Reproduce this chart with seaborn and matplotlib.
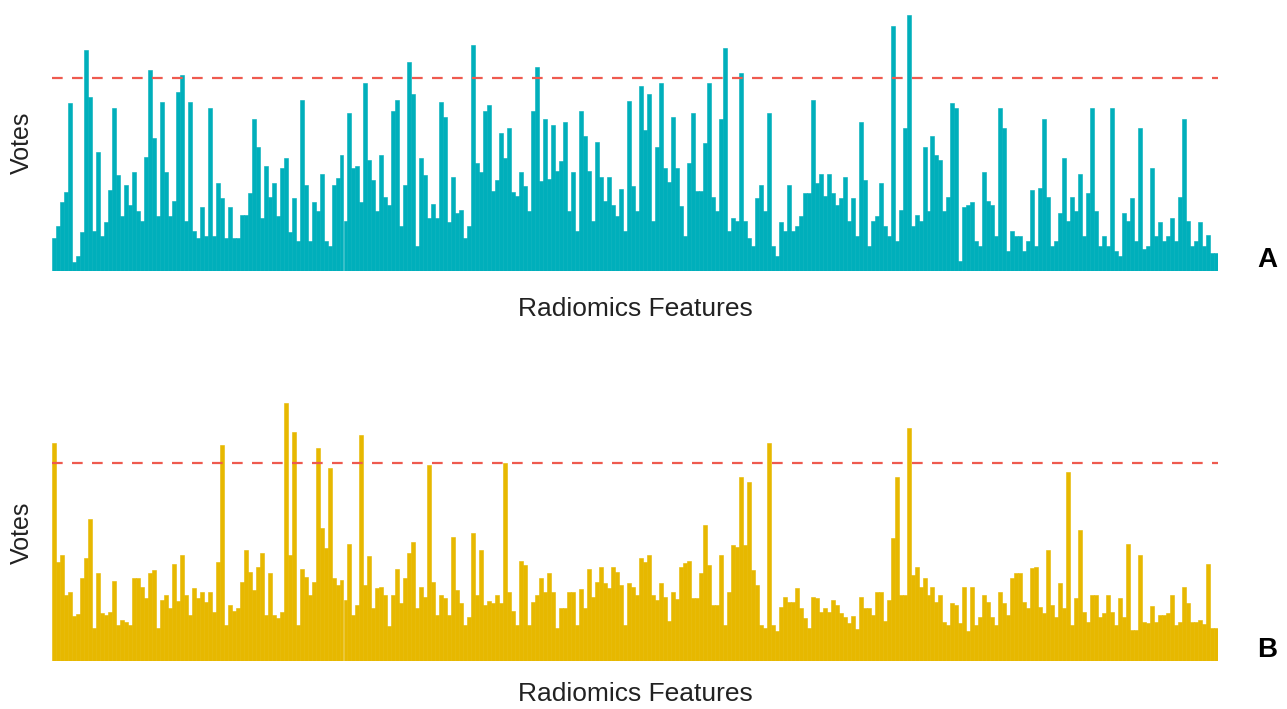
import matplotlib
matplotlib.use("Agg")
import matplotlib.pyplot as plt
import seaborn as sns
import pandas as pd

# votes per radiomics feature (one value per ~4 px column)
votes_a = [
    33, 45, 69, 79, 168, 9, 15, 39, 221, 174,
    40, 119, 35, 49, 81, 163, 96, 55, 86, 66,
    99, 60, 50, 114, 201, 133, 55, 169, 99, 55,
    70, 179, 196, 50, 169, 40, 33, 64, 35, 163,
    35, 88, 73, 33, 64, 33, 33, 56, 56,
    78, 152, 124, 53, 105, 74, 88, 55, 103, 113,
    39, 73, 30, 171, 86, 30, 69, 60, 97, 30,
    25, 86, 93, 116, 50, 158, 103, 105, 69, 188,
    111, 91, 60, 116, 74, 66, 160, 171, 45, 86,
    209, 177, 25, 113, 96, 53, 67, 53, 169,
    154, 49, 94, 58, 61, 33, 45, 226, 108, 99,
    160, 166, 80, 91, 138, 113, 143, 79, 75, 99,
    85, 60, 160, 204, 90, 152, 92, 146, 100, 110,
    149, 60, 99, 40, 160, 135, 100, 50, 129, 94,
    70, 94, 66, 55, 82, 40, 170, 85, 60, 185,
    141, 177, 50, 124, 188, 103, 89, 154, 103, 65,
    35, 108, 158, 80, 80, 128, 188, 74, 60, 152,
    223, 40, 53, 50, 198, 50, 33, 25, 73, 86,
    60, 158, 25, 15, 49, 40, 86, 40, 45, 55,
    78, 78, 171, 88, 97, 75, 97, 78, 66,
    73, 94, 50, 73, 35, 149, 91, 25, 50, 55,
    88, 45, 35, 245, 30, 61, 143, 256, 45, 56,
    50, 124, 60, 135, 116, 111, 60, 74, 168, 163,
    10, 64, 66, 69, 30, 25, 99, 70, 66, 35,
    163, 143, 20, 40, 35, 35, 20, 30, 81,
    25, 83, 152, 74, 25, 30, 58, 113, 50, 74,
    60, 97, 35, 78, 163, 60, 25, 35, 25, 163,
    20, 15, 58, 50, 73, 30, 143, 22, 25, 103,
    35, 49, 30, 35, 53, 30, 74, 152, 50, 25,
    30, 49, 25, 36, 18, 18,
]

votes_b = [
    218, 99, 106, 66, 69, 45, 47, 83, 103, 142,
    33, 88, 48, 46, 49, 80, 36, 41, 39, 36,
    83, 83, 74, 63, 88, 91, 33, 61, 66, 53,
    97, 60, 106, 66, 46, 73, 63, 69, 59, 69,
    49, 99, 216, 36, 56, 50, 53, 79, 111,
    89, 71, 94, 108, 46, 88, 46, 43, 49, 258,
    106, 229, 36, 92, 84, 66, 79, 213, 133, 113,
    193, 83, 76, 81, 61, 117, 46, 56, 226, 76,
    105, 53, 73, 74, 66, 35, 66, 92, 58, 83,
    108, 119, 53, 74, 64, 196, 79, 46, 66,
    63, 46, 124, 71, 58, 36, 44, 128, 66, 111,
    56, 60, 58, 66, 58, 198, 69, 50, 36, 100,
    96, 36, 59, 66, 83, 69, 88, 69, 33, 53,
    53, 69, 69, 36, 72, 53, 92, 64, 79, 94,
    78, 73, 94, 89, 76, 36, 78, 74, 66, 103,
    99, 106, 66, 61, 78, 64, 40, 69, 62, 94,
    98, 100, 63, 63, 88, 136, 96, 56, 56, 106,
    36, 69, 116, 114, 184, 116, 179, 91, 76, 36,
    33, 218, 36, 30, 54, 64, 59, 59, 73, 53,
    43, 33, 64, 63, 49, 53, 49, 61, 56,
    48, 44, 38, 45, 32, 64, 53, 53, 46, 69,
    69, 40, 61, 123, 184, 66, 66, 233, 86, 94,
    74, 83, 66, 74, 59, 66, 39, 36, 58, 56,
    38, 74, 30, 74, 36, 44, 66, 59, 44, 36,
    69, 58, 46, 83, 88, 88, 59, 53, 93,
    94, 54, 48, 111, 56, 44, 78, 53, 189, 36,
    63, 131, 49, 39, 66, 66, 44, 48, 66, 49,
    36, 63, 44, 117, 31, 31, 106, 39, 38, 55,
    39, 46, 46, 48, 66, 36, 39, 74, 58, 39,
    39, 41, 37, 97, 33, 33,
]

threshold_a = 193
threshold_b = 198

panels = [
    ("A", votes_a, threshold_a, "#00AFBB"),
    ("B", votes_b, threshold_b, "#E7B800"),
]

sns.set_theme(style="white")
plt.rcParams["font.family"] = ["Liberation Sans", "DejaVu Sans"]

W, H = 1287, 709
fig = plt.figure(figsize=(W / 100, H / 100), dpi=100)

# panel geometry in pixels: (baseline y, top y, x-label centre y)
boxes = [(271, 10, 309), (661, 400, 694)]
left_px, right_px = 52, 1218

for (tag, votes, thr, color), (base, top, xlab_y) in zip(panels, boxes):
    ax = fig.add_axes([left_px / W, (H - base) / H,
                       (right_px - left_px) / W, (base - top) / H])
    df = pd.DataFrame({"feature": range(len(votes)), "votes": votes})
    # thin same-colour edge closes the antialiasing seams between bars
    sns.barplot(data=df, x="feature", y="votes", color=color, saturation=1,
                width=1.0, linewidth=0.4, edgecolor=color, errorbar=None, ax=ax)
    ax.axhline(thr, color="#EE5A4F", lw=1.6, dashes=(4.8, 4.2))
    ax.set_xlim(-0.5, len(votes) - 0.5)
    ax.set_ylim(0, base - top)
    ax.set_axis_off()

    fig.text(635 / W, 1 - xlab_y / H, "Radiomics Features",
             ha="center", va="center", fontsize=19, color="#222222")
    fig.text(22 / W, 1 - (base - 128) / H, "Votes", rotation=90,
             ha="center", va="center", fontsize=18, color="#222222")
    fig.text(1267 / W, 1 - (base - 11) / H, tag, ha="center", va="center",
             fontsize=20, fontweight="bold", color="black")

fig.savefig("out.png", dpi=100)
plt.close(fig)
